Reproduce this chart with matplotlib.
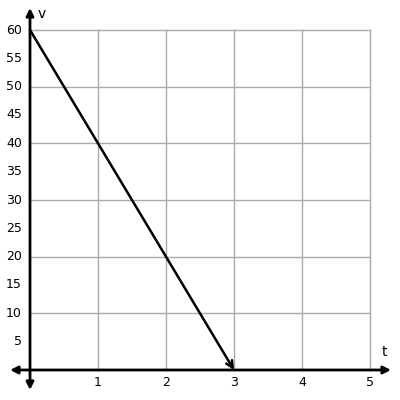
import matplotlib
matplotlib.use('Agg')
import matplotlib.pyplot as plt

# data
t_vals = [0, 3]
v_vals = [60, 0]
x_ticks = [1, 2, 3, 4, 5]
y_ticks = [5, 10, 15, 20, 25, 30, 35, 40, 45, 50, 55, 60]

fig = plt.figure(figsize=(4, 4), dpi=100)
ax = fig.add_axes([0, 0, 1, 1])
sx = 68.0
sy = 340.0 / 60
ax.set_xlim(-30 / sx, 370 / sx)
ax.set_ylim((370 - 400) / sy, 370 / sy)
ax.axis('off')

# grid
for x in x_ticks:
    ax.plot([x, x], [0, 60], color='#aaaaaa', lw=1, zorder=1)
for y in range(10, 61, 10):
    ax.plot([0, 5], [y, y], color='#aaaaaa', lw=1, zorder=1)

# axes with arrows
xl, xr = -20 / sx, 361 / sx
yb, yt = -20 / sy, 362 / sy
ax.annotate('', xy=(xr, 0), xytext=(xl, 0),
            arrowprops=dict(arrowstyle='<|-|>', color='black', lw=2, mutation_scale=11, shrinkA=0, shrinkB=0), zorder=3)
ax.annotate('', xy=(0, yt), xytext=(0, yb),
            arrowprops=dict(arrowstyle='<|-|>', color='black', lw=2, mutation_scale=11, shrinkA=0, shrinkB=0), zorder=3)

# line
ax.annotate('', xy=(t_vals[1], v_vals[1]), xytext=(t_vals[0], v_vals[0]),
            arrowprops=dict(arrowstyle='->', color='black', lw=1.8, mutation_scale=12, shrinkA=0, shrinkB=0), zorder=4)

for x in x_ticks:
    ax.text(x, -13 / sy, str(x), ha='center', va='center', fontsize=9)
for y in y_ticks:
    ax.text(-8 / sx, y, str(y), ha='right', va='center', fontsize=9)
ax.text(12 / sx, 356 / sy, 'v', ha='center', va='center', fontsize=10)
ax.text(354 / sx, 18 / sy, 't', ha='center', va='center', fontsize=10)

fig.savefig('out.png', dpi=100)
